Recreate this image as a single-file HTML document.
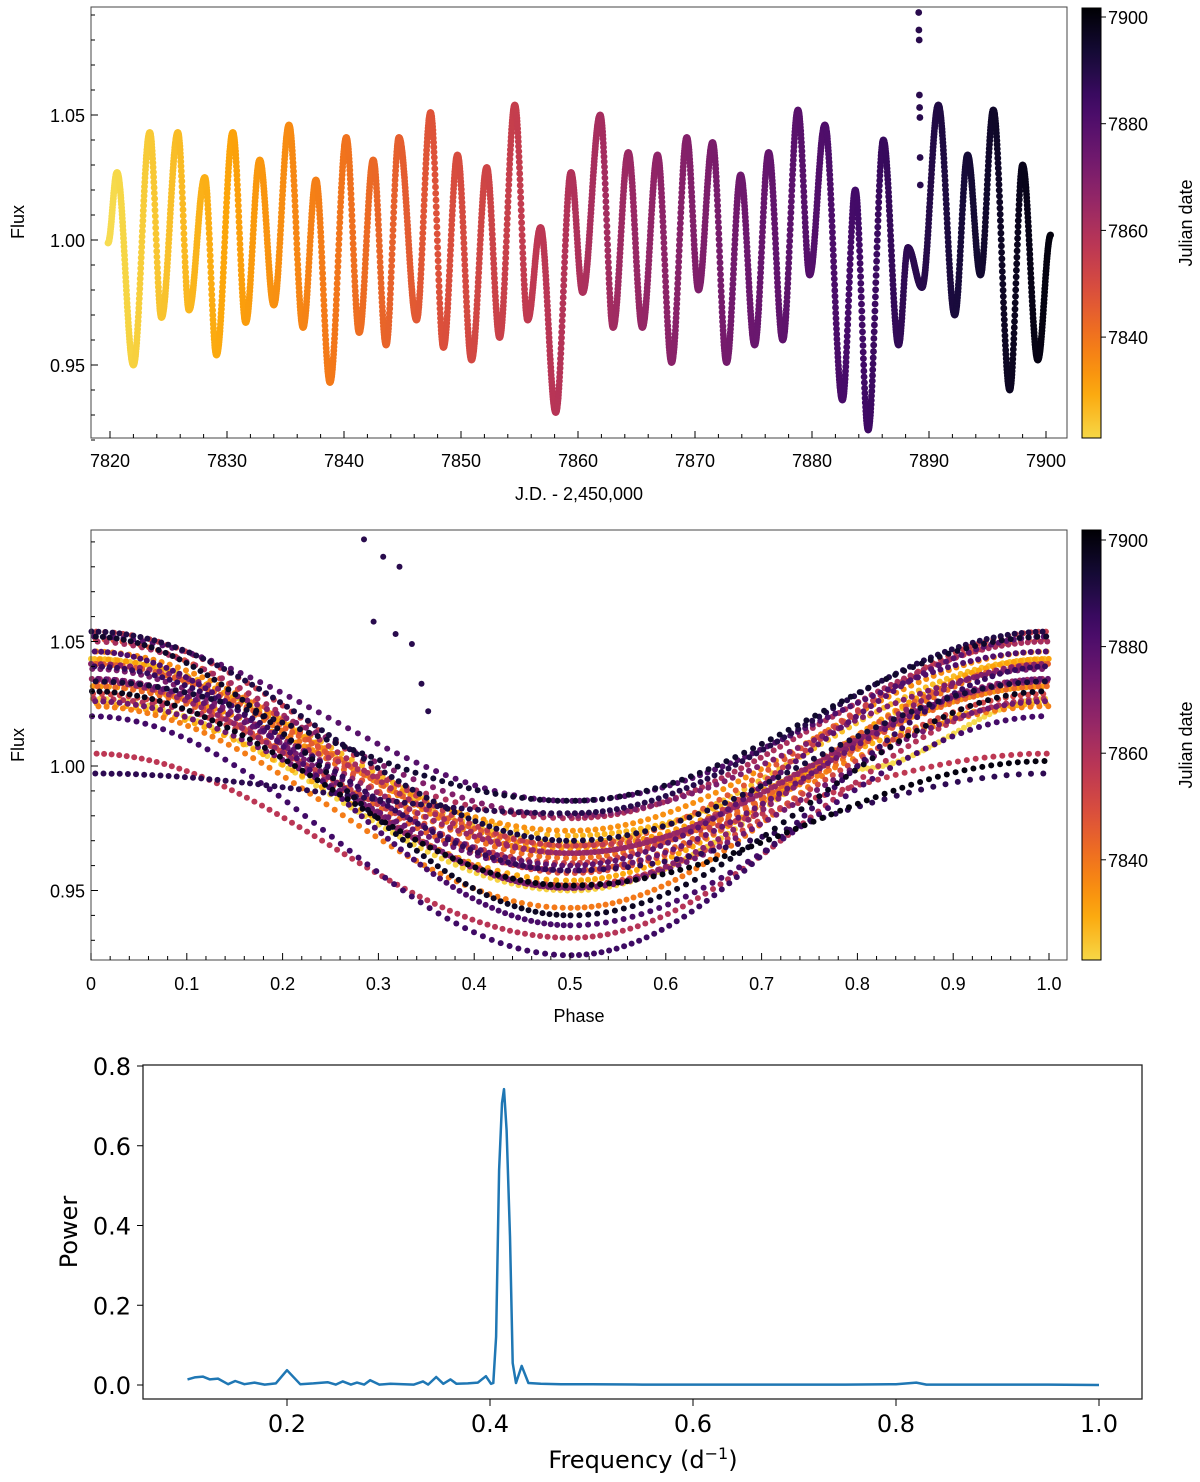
<!DOCTYPE html>
<html><head><meta charset="utf-8"><style>
html,body{margin:0;padding:0;background:#fff;}
svg{display:block;}
.t1{font-family:"Liberation Sans",sans-serif;font-size:18px;fill:#000;}
.t3{font-family:"DejaVu Sans",sans-serif;font-size:24px;fill:#000;}
</style></head><body>
<svg id="fig" width="1200" height="1482" viewBox="0 0 1200 1482" xmlns="http://www.w3.org/2000/svg">
<defs>
<linearGradient id="cmap" x1="0" y1="1" x2="0" y2="0"></linearGradient>
</defs>
<g id="p1"></g>
<g id="p2"></g>
<g id="p3"></g>
</svg>
<script>
// ---- data: light curve extrema (JD, flux) ----
const extJD = [7819.83,7820.6,7822.0,7823.4,7824.4,7825.8,7826.75,7828.1,7829.1,7830.5,7831.6,7832.8,7834.0,7835.3,7836.5,7837.6,7838.8,7840.2,7841.3,7842.5,7843.6,7844.7,7846.2,7847.4,7848.5,7849.7,7850.9,7852.2,7853.3,7854.6,7855.7,7856.8,7858.1,7859.4,7860.4,7861.9,7863.0,7864.3,7865.5,7866.8,7868.0,7869.3,7870.3,7871.5,7872.7,7873.9,7875.1,7876.3,7877.5,7878.8,7879.8,7881.1,7882.6,7883.7,7884.8,7886.1,7887.4,7888.2,7889.4,7890.8,7892.2,7893.3,7894.4,7895.5,7896.9,7898.0,7899.3,7900.4];
const extFlux = [0.9988,1.027,0.950,1.043,0.969,1.043,0.972,1.025,0.954,1.043,0.967,1.032,0.974,1.046,0.965,1.024,0.943,1.041,0.963,1.032,0.958,1.041,0.968,1.051,0.957,1.034,0.952,1.029,0.961,1.054,0.968,1.005,0.931,1.027,0.979,1.050,0.965,1.035,0.965,1.034,0.951,1.041,0.980,1.039,0.951,1.026,0.958,1.035,0.960,1.052,0.986,1.046,0.936,1.020,0.924,1.040,0.958,0.997,0.981,1.054,0.970,1.034,0.986,1.052,0.940,1.030,0.952,1.002];
const flareJD = [7889.12,7889.14,7889.16,7889.18,7889.20,7889.22,7889.24,7889.26];
const flareFlux = [1.091,1.084,1.080,1.058,1.053,1.049,1.033,1.022];
const flarePhase = [0.285,0.305,0.322,0.295,0.318,0.335,0.345,0.352];
const cadence = 0.0204;
// ---- periodogram ----
const freq = [0.102,0.109,0.117,0.124,0.132,0.142,0.149,0.158,0.168,0.178,0.189,0.200,0.213,0.226,0.240,0.248,0.255,0.263,0.269,0.276,0.282,0.291,0.302,0.315,0.325,0.334,0.339,0.347,0.354,0.361,0.367,0.378,0.388,0.396,0.401,0.4033,0.406,0.409,0.4118,0.4138,0.4164,0.4197,0.4224,0.4256,0.4312,0.4378,0.45,0.47,0.5,0.55,0.6,0.65,0.7,0.75,0.8,0.82,0.83,0.9,0.95,1.0];
const power = [0.014,0.019,0.021,0.014,0.016,0.002,0.010,0.002,0.006,0.001,0.004,0.037,0.002,0.004,0.007,0.001,0.009,0.001,0.006,0.001,0.012,0.001,0.003,0.002,0.001,0.009,0.001,0.020,0.003,0.014,0.003,0.004,0.006,0.022,0.003,0.005,0.121,0.539,0.707,0.742,0.639,0.372,0.055,0.005,0.048,0.005,0.003,0.002,0.002,0.001,0.001,0.001,0.001,0.001,0.002,0.006,0.001,0.001,0.001,0.0];
const xTicks1 = [7820,7830,7840,7850,7860,7870,7880,7890,7900];
const yTicks1 = [0.95,1.00,1.05];
const cbTicks = [7840,7860,7880,7900];
const xTicks2 = [0,0.1,0.2,0.3,0.4,0.5,0.6,0.7,0.8,0.9,1.0];
const xTicks3 = [0.2,0.4,0.6,0.8,1.0];
const yTicks3 = [0.0,0.2,0.4,0.6,0.8];

const NS='http://www.w3.org/2000/svg';
function mk(parent,tag,attrs,text){const e=document.createElementNS(NS,tag);for(const k in attrs)e.setAttribute(k,attrs[k]);if(text!==undefined)e.textContent=text;parent.appendChild(e);return e;}
const inf=[[0,0,0,4],[0.1,22,11,57],[0.2,66,10,104],[0.3,106,23,110],[0.4,147,38,103],[0.5,188,55,84],[0.6,221,81,58],[0.7,243,120,25],[0.8,252,165,10],[0.9,246,215,70],[1,252,255,164]];
function inferno(v){v=Math.max(0,Math.min(1,v));for(let i=0;i<inf.length-1;i++){if(v<=inf[i+1][0]){const a=inf[i],b=inf[i+1],s=(v-a[0])/(b[0]-a[0]);return 'rgb('+[1,2,3].map(j=>Math.round(a[j]+(b[j]-a[j])*s)).join(',')+')';}}return 'rgb(252,255,164)';}
const JMIN=7821, JMAX=7902;
function jdColor(jd){const t=(jd-JMIN)/(JMAX-JMIN);return inferno(0.9*(1-t));}
const grad=document.getElementById('cmap');
for(let i=0;i<=20;i++){mk(grad,'stop',{offset:(i/20),'stop-color':jdColor(JMIN+(JMAX-JMIN)*i/20)});}

// build samples [jd, flux, phase]
const samples=[];
for(let jd=extJD[0];jd<=extJD[extJD.length-1];jd+=cadence){
  let i=0;while(i<extJD.length-2&&jd>extJD[i+1])i++;
  const s=(jd-extJD[i])/(extJD[i+1]-extJD[i]);
  const f=extFlux[i]+(extFlux[i+1]-extFlux[i])*(1-Math.cos(Math.PI*s))/2;
  const ph=(i===0)?0.8+0.2*s:((i%2===1)?0.5*s:0.5+0.5*s);
  samples.push([jd,f,ph]);
}
for(let k=0;k<flareJD.length;k++)samples.push([flareJD[k],flareFlux[k],flarePhase[k]]);
samples.sort((a,b)=>a[0]-b[0]);

const X1=jd=>110+(jd-7820)*11.7, Y1=f=>240-(f-1)*2500;
const X2=p=>91+p*958, Y2=f=>766-(f-1)*2490;
const X3=v=>287+(v-0.2)*1015, Y3=p=>1385-p*398.75;

function colorbar(g,top,bot,ytick){
  const r=mk(g,'rect',{x:1082,y:top,width:19,height:bot-top,fill:'url(#cmap)',stroke:'#000','stroke-width':1});
  
  
  cbTicks.forEach(v=>{const y=ytick(v);mk(g,'line',{x1:1101,x2:1106,y1:y,y2:y,stroke:'#000'});
    const t=mk(g,'text',{x:1108,y:y+7,class:'t1','font-size':'19'},String(v));
    
    });
  const cy=(top+bot)/2;
  const l=mk(g,'text',{x:1192,y:cy,class:'t1','text-anchor':'middle',transform:'rotate(-90 1192 '+cy+')'},'Julian date');
  
  
}

// ---------- Panel 1 ----------
const p1=document.getElementById('p1');
const pts1=mk(p1,'g',{});


samples.forEach(s=>{mk(pts1,'circle',{cx:X1(s[0]).toFixed(1),cy:Y1(s[1]).toFixed(1),r:3.4,fill:jdColor(s[0])});});
mk(p1,'rect',{x:91,y:7,width:976,height:431,fill:'none',stroke:'#444','stroke-width':1});
for(let v=7820;v<=7901;v+=2){const x=X1(v),maj=v%10===0;mk(p1,'line',{x1:x,x2:x,y1:438,y2:438-(maj?7:4),stroke:'#000'});}
xTicks1.forEach(v=>{const t=mk(p1,'text',{x:X1(v),y:467,class:'t1','text-anchor':'middle'},String(v));
  
  });
for(let v=0.92;v<=1.095;v+=0.01){const y=Y1(v);const maj=Math.abs(v*100-Math.round(v*20)*5)<0.01;mk(p1,'line',{x1:91,x2:91+(maj?7:4),y1:y,y2:y,stroke:'#000'});}
yTicks1.forEach(v=>{const t=mk(p1,'text',{x:85,y:Y1(v)+7,class:'t1','text-anchor':'end'},v.toFixed(2));
  
  });
let tl=mk(p1,'text',{x:24,y:222,class:'t1','text-anchor':'middle',transform:'rotate(-90 24 222)'},'Flux');


tl=mk(p1,'text',{x:579,y:500,class:'t1','text-anchor':'middle'},'J.D. - 2,450,000');


colorbar(p1,8,438,v=>17+(7900-v)*5.335);

// ---------- Panel 2 ----------
const p2=document.getElementById('p2');
const pts2=mk(p2,'g',{});


samples.forEach(s=>{const y=Y2(s[1]);if(y<530)return;
  mk(pts2,'circle',{cx:X2(s[2]).toFixed(1),cy:y.toFixed(1),r:3,fill:jdColor(s[0])});});
mk(p2,'rect',{x:91,y:530,width:976,height:430,fill:'none',stroke:'#444','stroke-width':1});
for(let i=0;i<=50;i++){const v=i/50,x=X2(v),maj=i%5===0;mk(p2,'line',{x1:x,x2:x,y1:960,y2:960-(maj?7:4),stroke:'#000'});}
xTicks2.forEach(v=>{const t=mk(p2,'text',{x:X2(v),y:990,class:'t1','text-anchor':'middle'},v===0?'0':v.toFixed(1));
  
  });
for(let v=0.92;v<=1.095;v+=0.01){const y=Y2(v);if(y<530||y>960)continue;const maj=Math.abs(v*100-Math.round(v*20)*5)<0.01;mk(p2,'line',{x1:91,x2:91+(maj?7:4),y1:y,y2:y,stroke:'#000'});}
yTicks1.forEach(v=>{const t=mk(p2,'text',{x:85,y:Y2(v)+7,class:'t1','text-anchor':'end'},v.toFixed(2));
  
  });
tl=mk(p2,'text',{x:24,y:745,class:'t1','text-anchor':'middle',transform:'rotate(-90 24 745)'},'Flux');


tl=mk(p2,'text',{x:579,y:1022,class:'t1','text-anchor':'middle'},'Phase');


colorbar(p2,530,960,v=>540+(7900-v)*5.33);

// ---------- Panel 3 ----------
const p3=document.getElementById('p3');
const d=freq.map((f,i)=>(i?'L':'M')+X3(f).toFixed(1)+','+Y3(power[i]).toFixed(1)).join('');
const ln=mk(p3,'path',{d:d,fill:'none',stroke:'#1f77b4','stroke-width':2.5,'stroke-linejoin':'round'});


mk(p3,'rect',{x:143,y:1065,width:999,height:334,fill:'none',stroke:'#222','stroke-width':1.3});
xTicks3.forEach(v=>{const x=X3(v);mk(p3,'line',{x1:x,x2:x,y1:1399,y2:1406,stroke:'#000'});
  const t=mk(p3,'text',{x:x,y:1432,class:'t3','text-anchor':'middle'},v.toFixed(1));
  
  });
yTicks3.forEach(v=>{const y=Y3(v);mk(p3,'line',{x1:137,x2:143,y1:y,y2:y,stroke:'#000'});
  const t=mk(p3,'text',{x:131,y:y+9,class:'t3','text-anchor':'end'},v.toFixed(1));
  
  });
tl=mk(p3,'text',{x:77,y:1232,class:'t3','text-anchor':'middle',transform:'rotate(-90 77 1232)'},'Power');


tl=mk(p3,'text',{x:643,y:1468,class:'t3','text-anchor':'middle'});


tl.appendChild(document.createTextNode('Frequency (d'));
mk(tl,'tspan',{dy:-9,'font-size':'16'},'−1');
mk(tl,'tspan',{dy:9},')');
</script>
</body></html>
